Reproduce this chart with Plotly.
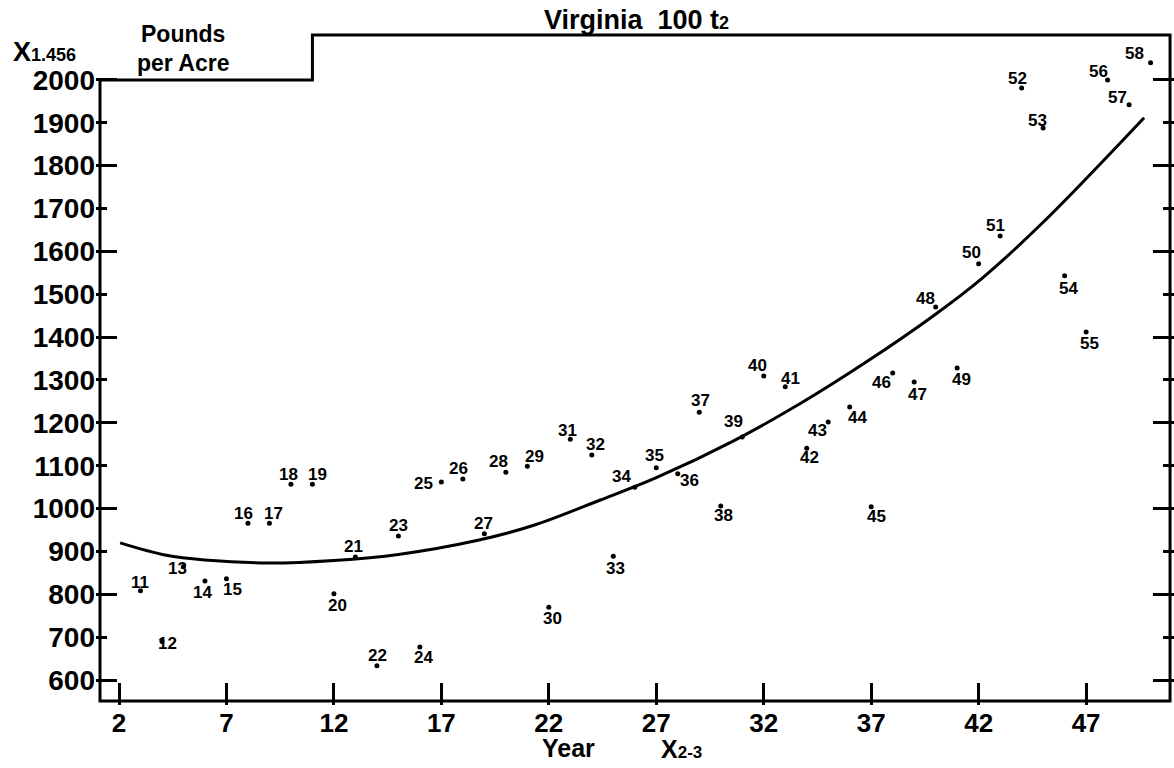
import plotly.graph_objects as go

# Observations: crop-year label, position on the year axis, yield in pounds per acre
year_labels = [11, 12, 13, 14, 15, 16, 17, 18, 19, 20,
               21, 22, 23, 24, 25, 26, 27, 28, 29, 30,
               31, 32, 33, 34, 35, 36, 37, 38, 39, 40,
               41, 42, 43, 44, 45, 46, 47, 48, 49, 50,
               51, 52, 53, 54, 55, 56, 57, 58]
year_x = [3, 4, 5, 6, 7, 8, 9, 10, 11, 12,
          13, 14, 15, 16, 17, 18, 19, 20, 21, 22,
          23, 24, 25, 26, 27, 28, 29, 30, 31, 32,
          33, 34, 35, 36, 37, 38, 39, 40, 41, 42,
          43, 44, 45, 46, 47, 48, 49, 50]
pounds = [808, 690, 865, 831, 836, 966, 966, 1057, 1057, 801,
          887, 633, 936, 677, 1062, 1069, 941, 1085, 1099, 770,
          1162, 1125, 889, 1050, 1095, 1081, 1225, 1006, 1167, 1309,
          1284, 1141, 1202, 1237, 1004, 1316, 1295, 1470, 1328, 1571,
          1636, 1981, 1888, 1543, 1412, 2000, 1942, 2040]

# Fitted second-degree trend
trend_x = [2.05, 4.2, 6, 9, 12, 15, 18.7, 21.3, 24.4, 27, 30.6, 33.7, 36.8, 39.9, 42.2, 45, 49.7]
trend_y = [920, 891, 880, 873, 879, 893, 926, 961, 1020, 1072, 1158, 1245, 1343, 1450, 1539, 1668, 1912]

x_ticks = [2, 7, 12, 17, 22, 27, 32, 37, 42, 47]
y_ticks = [600, 700, 800, 900, 1000, 1100, 1200, 1300, 1400, 1500, 1600, 1700, 1800, 1900, 2000]
y_ticks_long = [600, 800, 1000, 1200, 1400, 1600, 1800, 2000]

# Placement of each year label around its dot (pixels: right, down)
label_offsets = {
    11: (0, -8), 12: (6, 2), 13: (-6, 2), 14: (-2, 11), 15: (6, 11),
    16: (-4, -10), 17: (4, -10), 18: (-2, -10), 19: (5, -10), 20: (4, 12),
    21: (-2, -11), 22: (1, -10), 23: (0, -11), 24: (4, 10), 25: (-18, 2),
    26: (-4, -10), 27: (-1, -10), 28: (-7, -11), 29: (7, -10), 30: (4, 11),
    31: (-3, -9), 32: (4, -10), 33: (2, 12), 34: (-13, -11), 35: (-2, -12),
    36: (12, 7), 37: (1, -12), 38: (3, 10), 39: (-9, -15), 40: (-6, -11),
    41: (5, -8), 42: (3, 9), 43: (-11, 9), 44: (8, 11), 45: (5, 10),
    46: (-11, 9), 47: (3, 12), 48: (-10, -9), 49: (4, 12), 50: (-7, -11),
    51: (-5, -10), 52: (-4, -10), 53: (-6, -7), 54: (4, 13), 55: (3, 12),
    56: (-9, -8), 57: (-12, -7), 58: (-16, -9),
}

W, H = 1174, 768
ML, MR, MT, MB = 96, 0, 31, 63
X_RANGE = [0.930, 51.09]
Y_RANGE = [541.7, 2114.2]
FONT = "Liberation Sans"


def paper(px, py):
    return (px - ML) / (W - ML - MR), (H - MB - py) / (H - MT - MB)


fig = go.Figure()

fig.add_trace(go.Scatter(
    x=trend_x, y=trend_y, mode="lines",
    line=dict(color="black", width=3, shape="spline", smoothing=1.0),
    hoverinfo="skip", showlegend=False,
))
fig.add_trace(go.Scatter(
    x=year_x, y=pounds, mode="markers",
    marker=dict(color="black", size=5),
    text=[str(v) for v in year_labels], showlegend=False,
))
# carrier for the second (long-tick) y axis
fig.add_trace(go.Scatter(x=[None], y=[None], yaxis="y2", showlegend=False, hoverinfo="skip"))

for lab, xv, yv in zip(year_labels, year_x, pounds):
    dx, dy = label_offsets[lab]
    fig.add_annotation(
        x=xv, y=yv, text=str(lab), showarrow=False,
        xshift=dx, yshift=-dy,
        font=dict(family=FONT, size=17, color="black", weight="bold"),
    )

# plot frame with the raised right-hand section
x_left, x_step, x_right = 1.116, 11.0, 50.906
y_low, y_notch, y_top = 551.0, 2000, 2104.9
fig.add_shape(
    type="path", xref="x", yref="y",
    path=(f"M {x_left},{y_notch} L {x_step},{y_notch} L {x_step},{y_top} "
          f"L {x_right},{y_top} L {x_right},{y_low} L {x_left},{y_low} Z"),
    line=dict(color="black", width=3), fillcolor="rgba(0,0,0,0)",
)

texts = [
    ("Virginia&nbsp;&nbsp;100 t<span style='font-size:18px'>2</span>", 636, 20, "center", 27),
    ("Pounds", 139, 34, "left", 23),
    ("per Acre", 135, 63, "left", 23),
    ("X<span style='font-size:18px'>1.456</span>", 11, 52, "left", 27),
    ("Year", 568, 748, "center", 25),
    ("X<span style='font-size:17px'>2-3</span>", 659, 749, "left", 25),
]
for txt, px, py, anchor, size in texts:
    xp, yp = paper(px, py)
    fig.add_annotation(
        x=xp, y=yp, xref="paper", yref="paper", text=txt, showarrow=False,
        xanchor=anchor, yanchor="middle",
        font=dict(family=FONT, size=size, color="black", weight="bold"),
    )

fig.update_layout(
    width=W, height=H,
    margin=dict(l=ML, r=MR, t=MT, b=MB),
    plot_bgcolor="white", paper_bgcolor="white",
    xaxis=dict(
        range=X_RANGE, tickvals=x_ticks, ticks="inside", ticklen=22, tickwidth=3,
        tickcolor="black", showgrid=False, zeroline=False, showline=False,
        tickfont=dict(family=FONT, size=26, color="black", weight="bold"),
    ),
    yaxis=dict(
        range=Y_RANGE, tickvals=y_ticks, ticks="inside", ticklen=11, tickwidth=3,
        tickcolor="black", showgrid=False, zeroline=False, showline=False,
        mirror="ticks", ticklabelstandoff=0,
        tickfont=dict(family=FONT, size=28, color="black", weight="bold"),
    ),
    yaxis2=dict(
        range=Y_RANGE, overlaying="y", side="left", tickvals=y_ticks_long,
        ticks="inside", ticklen=21, tickwidth=3, tickcolor="black",
        showticklabels=False, showgrid=False, zeroline=False, showline=False,
        mirror="ticks",
    ),
)

fig.write_html("out.html")
